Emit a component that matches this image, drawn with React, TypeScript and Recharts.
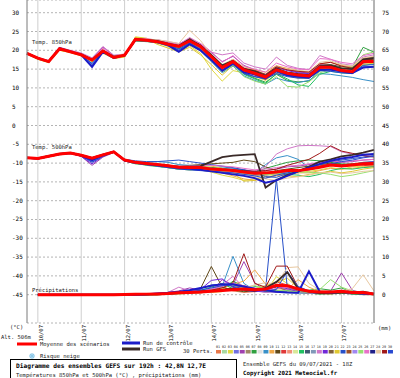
import { LineChart, Line, XAxis, YAxis, CartesianGrid, ReferenceLine } from 'recharts';

// 6-hourly steps from 09/07 18Z to 17/07 18Z (192h)
const STEPS = [0, 1, 2, 3, 4, 5, 6, 7, 8, 9, 10, 11, 12, 13, 14, 15, 16, 17, 18, 19, 20, 21, 22, 23, 24, 25, 26, 27, 28, 29, 30, 31, 32];
const DAY_TICKS = [1, 5, 9, 13, 17, 21, 25, 29];
const DAY_LABELS = ['10/07', '11/07', '12/07', '13/07', '14/07', '15/07', '16/07', '17/07'];
const TEMP_TICKS = [30, 25, 20, 15, 10, 5, 0, -5, -10, -15, -20, -25, -30, -35, -40, -45];
const RR_TICKS = [75, 70, 65, 60, 55, 50, 45, 40, 35, 30, 25, 20, 15, 10, 5, 0];

const PERT_NUMBERS = ['01', '02', '03', '04', '05', '06', '07', '08', '09', '10', '11', '12', '13', '14', '15', '16', '17', '18', '19', '20', '21', '22', '23', '24', '25', '26', '27', '28', '29', '30'];
const PERT_COLORS = ['#e8784a', '#a8d8a0', '#e0d840', '#7070e0', '#a040b0', '#a08868', '#30a040', '#e0e0e0', '#3890c8', '#f0a848', '#604818', '#e03838', '#f09078', '#d8e898', '#20c060', '#405870', '#8098b8', '#d078c8', '#7028d8', '#806038', '#e0c830', '#2850c8', '#a05028', '#a088f0', '#98e070', '#e870c8', '#202088', '#e8c8a0', '#a01818', '#2848d0'];

// Temp 850hPa (°C)
const T850_MEAN = [19.2, 17.9, 17.0, 20.4, 19.6, 18.8, 17.4, 19.8, 18.1, 18.7, 22.9, 22.7, 22.3, 21.6, 21.0, 22.5, 21.0, 18.3, 15.4, 17.0, 14.8, 13.9, 12.9, 14.8, 13.9, 13.4, 13.2, 15.5, 15.5, 14.6, 14.3, 17.0, 17.0];
const T850_CTRL = [19.2, 17.9, 17.0, 20.6, 19.7, 18.8, 15.6, 19.6, 18.0, 18.7, 22.8, 22.6, 22.2, 21.4, 19.6, 21.6, 20.0, 17.4, 14.6, 16.6, 14.2, 13.6, 12.6, 14.6, 13.4, 13.0, 12.8, 14.8, 14.8, 14.4, 14.0, 15.4, 15.6];
const T850_GFS = [19.2, 17.9, 17.0, 20.5, 19.6, 18.9, 17.5, 19.9, 18.3, 18.6, 23.0, 22.8, 22.5, 21.8, 21.2, 22.9, 21.2, 18.8, 16.0, 17.2, 15.0, 14.4, 13.2, 15.2, 14.0, 13.6, 13.4, 15.8, 16.0, 15.2, 15.0, 17.6, 18.0];
const T850_01 = [19.0, 17.7, 16.8, 20.2, 19.8, 18.9, 17.6, 20.1, 18.3, 18.9, 23.3, 23.0, 22.6, 22.0, 20.6, 22.0, 20.3, 17.6, 14.8, 16.4, 14.2, 13.5, 12.4, 14.2, 13.6, 13.0, 12.8, 15.0, 15.8, 15.2, 15.0, 17.4, 17.8];
const T850_03 = [19.1, 17.6, 16.7, 20.0, 19.4, 18.5, 17.0, 19.2, 17.8, 18.4, 23.6, 23.2, 22.0, 21.0, 19.6, 21.2, 19.2, 15.0, 11.8, 14.6, 14.0, 13.0, 12.0, 14.0, 13.2, 12.6, 12.5, 14.8, 15.3, 14.5, 14.1, 16.5, 16.8];
const T850_05 = [19.3, 18.0, 17.2, 20.6, 19.8, 19.1, 17.8, 20.9, 18.6, 18.8, 22.6, 22.5, 22.8, 22.1, 21.6, 23.0, 21.6, 19.4, 17.0, 18.4, 16.0, 14.8, 13.5, 15.8, 14.8, 14.2, 14.0, 16.2, 16.0, 15.2, 15.0, 17.6, 17.5];
const T850_07 = [19.2, 17.8, 16.9, 20.3, 19.5, 18.7, 17.3, 19.6, 18.0, 18.5, 22.8, 22.4, 22.0, 21.3, 20.5, 22.2, 20.5, 17.8, 14.6, 16.2, 13.8, 12.6, 11.5, 13.6, 12.0, 11.6, 11.8, 14.5, 14.8, 15.0, 15.5, 20.8, 19.5];
const T850_09 = [19.1, 17.8, 17.0, 20.5, 19.7, 18.6, 16.6, 19.5, 18.0, 18.6, 22.5, 22.4, 22.0, 21.2, 20.2, 21.8, 19.8, 17.0, 14.0, 15.8, 13.2, 12.0, 11.0, 12.6, 11.8, 11.4, 12.0, 13.8, 13.6, 13.2, 12.8, 12.2, 11.7];
const T850_10 = [19.4, 18.1, 17.1, 20.2, 19.5, 18.8, 17.6, 20.0, 18.2, 18.8, 23.1, 22.9, 22.6, 21.9, 20.9, 22.8, 21.2, 18.8, 16.0, 17.6, 15.6, 14.8, 14.2, 15.9, 15.2, 14.6, 14.2, 16.4, 16.8, 16.0, 15.6, 17.8, 18.2];
const T850_11 = [19.2, 17.9, 17.1, 20.4, 19.6, 18.7, 17.2, 19.7, 18.0, 18.6, 22.7, 22.6, 22.4, 21.4, 20.8, 23.2, 21.5, 18.6, 15.6, 17.3, 14.6, 13.8, 12.6, 15.0, 14.2, 13.8, 13.6, 16.0, 16.2, 15.6, 15.4, 17.4, 17.6];
const T850_12 = [19.2, 18.0, 17.0, 20.3, 19.7, 18.9, 17.5, 19.9, 18.3, 18.7, 22.8, 22.8, 22.5, 21.8, 21.4, 22.6, 20.8, 18.0, 15.2, 16.8, 14.6, 13.4, 12.2, 14.4, 13.4, 12.9, 12.8, 15.2, 15.6, 14.9, 14.4, 16.8, 17.4];
const T850_15 = [19.1, 17.8, 16.9, 20.1, 19.5, 18.8, 17.2, 19.4, 17.9, 18.5, 22.5, 22.3, 22.2, 21.5, 20.6, 22.0, 20.2, 17.2, 14.4, 16.4, 13.6, 12.4, 11.2, 13.8, 12.4, 10.8, 10.4, 13.6, 14.4, 14.0, 13.8, 16.0, 16.4];
const T850_18 = [19.3, 18.1, 17.3, 20.8, 20.0, 19.3, 18.0, 21.0, 18.7, 19.0, 23.0, 22.9, 22.8, 22.3, 21.8, 23.0, 21.8, 19.5, 18.8, 19.3, 16.6, 15.6, 15.0, 18.2, 16.0, 15.2, 14.9, 18.6, 17.6, 16.4, 16.0, 18.2, 18.8];
const T850_19 = [19.2, 17.9, 17.0, 20.5, 19.7, 18.9, 17.3, 19.9, 18.2, 18.9, 23.1, 22.8, 22.2, 21.7, 21.2, 22.4, 20.9, 18.4, 15.8, 17.4, 15.3, 14.2, 13.4, 15.4, 14.6, 14.0, 13.8, 15.8, 15.4, 14.4, 14.2, 16.6, 16.9];
const T850_21 = [19.0, 17.6, 16.8, 20.0, 19.4, 18.6, 17.0, 19.4, 17.8, 18.2, 23.4, 23.1, 21.6, 20.6, 19.6, 20.8, 18.8, 16.2, 13.4, 16.0, 14.4, 13.6, 12.6, 14.2, 13.8, 13.2, 13.0, 15.0, 15.2, 14.8, 14.4, 16.2, 16.6];
const T850_22 = [19.3, 17.9, 17.0, 20.6, 19.7, 18.8, 16.0, 19.6, 18.0, 18.8, 22.6, 22.6, 22.4, 21.5, 20.4, 22.2, 20.4, 17.6, 14.6, 16.4, 14.0, 13.0, 12.4, 14.2, 13.2, 12.8, 12.6, 14.8, 15.0, 14.2, 14.0, 16.0, 16.2];
const T850_25 = [19.1, 17.8, 16.9, 20.2, 19.5, 18.7, 17.4, 19.6, 18.0, 18.6, 22.7, 22.5, 22.0, 21.4, 20.8, 22.3, 20.6, 17.8, 14.2, 16.0, 13.0, 11.8, 11.0, 13.0, 10.4, 10.2, 11.6, 14.0, 14.8, 15.2, 15.6, 18.8, 19.6];
const T850_26 = [19.2, 18.0, 17.1, 20.6, 19.8, 19.0, 17.6, 20.6, 18.4, 18.9, 23.0, 23.2, 22.6, 22.0, 21.6, 23.4, 21.8, 19.6, 16.8, 18.6, 15.8, 15.0, 14.2, 16.6, 15.6, 15.0, 14.8, 17.8, 17.6, 16.8, 16.4, 18.6, 19.2];
const T850_28 = [19.2, 17.9, 17.1, 20.3, 19.6, 18.8, 17.6, 19.8, 18.4, 19.0, 22.9, 23.0, 22.8, 22.4, 21.8, 25.3, 22.6, 18.8, 16.2, 17.6, 15.6, 14.4, 13.8, 15.6, 15.0, 14.6, 14.4, 16.8, 17.2, 16.2, 15.8, 18.0, 18.4];
const T850_29 = [19.3, 18.0, 17.0, 20.4, 19.6, 18.8, 17.4, 19.8, 18.2, 18.7, 22.8, 22.7, 22.4, 21.7, 21.0, 22.6, 20.9, 18.6, 15.8, 17.2, 15.2, 14.6, 13.6, 15.6, 14.8, 14.4, 14.2, 16.4, 16.8, 15.8, 15.2, 17.2, 17.9];
const T850_30 = [19.2, 17.9, 17.0, 20.5, 19.7, 18.8, 16.4, 19.7, 18.1, 18.6, 22.7, 22.8, 22.2, 21.5, 20.0, 22.0, 20.0, 17.4, 14.4, 16.2, 13.8, 13.0, 12.4, 13.8, 13.0, 12.6, 12.6, 14.6, 14.4, 14.0, 13.8, 15.6, 15.6];

// Temp 500hPa (°C)
const T500_MEAN = [-8.6, -8.8, -8.2, -7.6, -7.3, -7.9, -8.7, -7.8, -7.0, -9.2, -9.8, -10.1, -10.4, -10.7, -11.1, -11.2, -11.2, -11.6, -11.8, -12.0, -12.4, -12.7, -12.6, -12.4, -12.0, -12.0, -11.6, -11.1, -10.5, -10.8, -10.5, -10.2, -10.1];
const T500_CTRL = [-8.6, -8.8, -8.2, -7.6, -7.3, -8.0, -9.2, -7.9, -7.0, -9.3, -9.9, -10.3, -10.6, -10.9, -11.3, -11.5, -11.8, -12.2, -12.6, -13.0, -13.4, -14.0, -15.2, -14.6, -13.4, -12.2, -11.2, -10.2, -9.4, -8.8, -8.4, -7.8, -7.6];
const T500_GFS = [-8.6, -8.8, -8.2, -7.6, -7.3, -7.9, -8.7, -7.8, -7.0, -9.2, -9.8, -10.1, -10.4, -10.7, -11.0, -11.0, -10.8, -9.6, -8.4, -8.0, -7.8, -7.6, -16.5, -14.5, -13.2, -12.2, -11.0, -9.6, -9.0, -8.2, -7.8, -7.2, -6.5];
const T500_01 = [-8.5, -8.7, -8.0, -7.4, -7.2, -7.8, -8.5, -7.6, -6.9, -9.0, -9.6, -10.0, -10.6, -11.0, -11.4, -11.6, -11.4, -11.8, -12.4, -12.6, -13.0, -13.4, -13.0, -12.6, -12.2, -11.8, -11.4, -10.6, -10.0, -10.4, -10.2, -9.8, -9.6];
const T500_03 = [-8.7, -8.9, -8.3, -7.8, -7.5, -8.1, -9.0, -8.0, -7.2, -9.4, -10.0, -10.3, -10.2, -10.5, -11.0, -11.4, -11.8, -12.4, -13.2, -13.8, -14.6, -14.2, -13.6, -13.2, -12.8, -12.4, -12.2, -11.8, -11.2, -11.6, -11.0, -10.8, -10.6];
const T500_05 = [-8.6, -8.8, -8.2, -7.5, -7.4, -8.2, -10.6, -8.4, -7.2, -9.0, -9.6, -10.0, -10.3, -10.6, -11.0, -11.1, -11.0, -11.4, -11.4, -11.6, -11.8, -12.2, -12.0, -11.6, -11.0, -10.8, -10.4, -9.8, -9.4, -9.8, -9.6, -9.2, -9.0];
const T500_07 = [-8.6, -8.6, -8.0, -7.6, -7.3, -7.9, -8.6, -7.7, -7.0, -9.4, -10.2, -10.4, -10.8, -11.2, -11.6, -11.8, -11.6, -11.8, -12.0, -12.2, -12.6, -12.4, -11.4, -10.6, -9.8, -9.4, -9.2, -9.4, -9.8, -10.2, -10.4, -10.0, -10.2];
const T500_09 = [-8.5, -8.8, -8.1, -7.5, -7.2, -7.8, -8.8, -7.8, -7.0, -9.2, -9.6, -9.8, -9.6, -9.8, -10.4, -10.6, -10.8, -11.2, -11.0, -11.4, -11.8, -12.6, -10.4, -8.6, -8.0, -9.0, -11.2, -10.8, -10.2, -10.6, -10.4, -9.8, -9.6];
const T500_10 = [-8.7, -8.8, -8.3, -7.7, -7.4, -8.0, -8.8, -7.9, -7.1, -9.3, -9.9, -10.2, -10.5, -10.8, -11.2, -11.4, -11.5, -12.0, -12.6, -13.4, -14.2, -14.6, -14.0, -13.4, -13.0, -12.6, -12.6, -12.0, -11.4, -11.6, -11.4, -11.0, -10.8];
const T500_11 = [-8.6, -8.8, -8.2, -7.6, -7.3, -7.9, -8.7, -7.8, -7.0, -9.2, -9.8, -10.1, -10.4, -10.6, -10.8, -10.6, -10.4, -10.2, -10.0, -9.8, -9.2, -9.6, -11.0, -12.0, -11.6, -11.2, -10.8, -10.4, -10.0, -10.4, -10.2, -10.0, -9.8];
const T500_12 = [-8.6, -8.7, -8.2, -7.6, -7.3, -7.9, -8.6, -7.8, -7.1, -9.1, -9.8, -10.2, -10.5, -10.8, -11.0, -11.1, -11.2, -11.5, -11.6, -11.8, -12.2, -12.4, -12.8, -12.8, -12.2, -12.0, -11.4, -10.8, -10.2, -10.6, -10.4, -10.6, -10.8];
const T500_15 = [-8.6, -8.8, -8.2, -7.7, -7.4, -8.0, -8.7, -7.8, -7.0, -9.3, -10.0, -10.6, -10.9, -11.2, -11.6, -11.6, -11.4, -11.2, -11.4, -11.8, -12.2, -12.6, -12.4, -12.6, -13.0, -13.2, -13.6, -13.0, -12.0, -11.4, -11.6, -11.2, -11.0];
const T500_18 = [-8.7, -8.9, -8.3, -7.8, -7.5, -8.1, -8.9, -8.0, -7.2, -9.4, -10.0, -10.3, -10.6, -10.9, -11.2, -11.4, -11.6, -11.8, -12.0, -12.2, -12.6, -12.0, -11.0, -7.6, -6.2, -5.4, -5.3, -5.4, -5.6, -7.0, -7.6, -8.0, -8.2];
const T500_19 = [-8.6, -8.9, -8.3, -7.6, -7.3, -8.2, -10.2, -8.2, -7.0, -9.2, -9.8, -10.2, -10.5, -10.8, -11.2, -11.3, -11.4, -11.8, -12.2, -12.4, -12.8, -13.0, -13.2, -12.8, -12.4, -12.2, -11.8, -11.2, -10.6, -10.8, -10.4, -10.0, -9.6];
const T500_21 = [-8.6, -8.7, -8.1, -7.5, -7.2, -7.8, -8.6, -7.7, -6.9, -9.1, -9.7, -10.0, -10.3, -10.6, -11.0, -11.0, -10.8, -10.8, -11.4, -12.6, -14.8, -14.6, -13.2, -12.8, -13.4, -13.6, -13.0, -12.6, -12.2, -12.6, -12.2, -11.6, -11.2];
const T500_22 = [-8.6, -8.8, -8.2, -7.5, -7.3, -8.0, -9.6, -8.0, -7.0, -9.0, -9.4, -9.6, -9.6, -9.4, -9.2, -9.6, -10.0, -10.4, -10.8, -11.2, -11.8, -12.4, -13.6, -13.8, -12.8, -12.0, -11.2, -10.4, -9.6, -9.2, -8.8, -8.4, -8.0];
const T500_25 = [-8.6, -8.8, -8.2, -7.6, -7.3, -7.9, -8.7, -7.8, -7.0, -9.2, -10.1, -10.5, -10.8, -11.2, -11.6, -11.8, -11.8, -12.0, -12.2, -12.4, -12.8, -13.2, -13.0, -12.8, -12.6, -12.4, -12.4, -12.6, -13.0, -13.6, -13.2, -12.6, -12.0];
const T500_26 = [-8.6, -8.8, -8.1, -7.5, -7.2, -7.8, -8.6, -7.6, -6.8, -9.0, -9.7, -10.0, -10.3, -10.6, -10.8, -10.8, -10.6, -10.6, -10.8, -11.0, -11.4, -11.8, -11.6, -11.2, -10.8, -10.6, -10.2, -9.8, -9.4, -9.6, -9.4, -9.2, -9.0];
const T500_28 = [-8.6, -8.8, -8.2, -7.6, -7.3, -7.9, -8.7, -7.8, -7.0, -9.2, -9.9, -10.1, -10.4, -10.6, -11.0, -11.0, -11.0, -11.4, -11.8, -12.4, -13.0, -13.6, -14.2, -14.6, -14.0, -13.6, -13.2, -12.6, -12.4, -12.8, -12.6, -12.2, -12.0];
const T500_29 = [-8.6, -8.8, -8.2, -7.6, -7.3, -7.9, -8.7, -7.8, -7.0, -9.2, -9.8, -10.1, -10.4, -10.7, -11.1, -11.2, -11.2, -11.4, -11.6, -11.8, -12.0, -12.2, -12.0, -11.6, -10.6, -9.8, -9.0, -7.4, -5.4, -6.8, -7.4, -8.0, -8.4];
const T500_30 = [-8.6, -8.8, -8.2, -7.6, -7.4, -8.1, -9.8, -8.2, -7.1, -9.4, -10.0, -10.4, -10.8, -11.2, -11.6, -11.8, -12.0, -12.2, -12.4, -12.6, -13.0, -13.4, -14.0, -13.2, -12.6, -12.0, -11.6, -11.0, -10.2, -9.6, -9.2, -8.6, -8.2];

// Precipitations (mm / 6h), no value at the start step
const RR_MEAN = [null, 0, 0, 0, 0, 0, 0, 0, 0, 0.05, 0.1, 0.15, 0.2, 0.3, 0.5, 0.6, 0.7, 0.9, 1.1, 1.3, 1.5, 1.3, 1.5, 2.5, 2.4, 1.5, 0.9, 0.7, 0.7, 0.9, 0.6, 0.6, 0.2];
const RR_CTRL = [null, 0, 0, 0, 0, 0, 0, 0, 0, 0, 0, 0.1, 0.3, 0.5, 0.8, 1.2, 1.8, 2.4, 2.8, 2.8, 2.2, 1.6, 1.2, 0.8, 0.6, 0.5, 6.2, 0.8, 0.6, 0.8, 0.6, 0.4, 0.2];
const RR_GFS = [null, 0, 0, 0, 0, 0, 0, 0, 0, 0, 0, 0, 0.1, 0.2, 0.4, 0.6, 0.8, 1.0, 1.2, 1.6, 1.4, 1.0, 1.8, 3.4, 6.0, 1.6, 0.8, 0.4, 0.4, 0.6, 0.6, 0.8, 0.2];
const RR_01 = [null, 0, 0, 0, 0, 0, 0, 0, 0, 0, 0, 0.1, 0.2, 0.4, 0.8, 0.5, 0.4, 1.2, 2.0, 1.0, 0.6, 0.8, 1.4, 2.2, 1.8, 1.0, 0.6, 0.4, 0.6, 1.0, 0.4, 0.2, 0];
const RR_03 = [null, 0, 0, 0, 0, 0, 0, 0, 0, 0, 0, 0, 0, 0.2, 0.4, 0.6, 1.0, 0.6, 0.8, 2.4, 1.8, 1.2, 0.8, 4.8, 3.0, 1.2, 0.6, 0.4, 0.2, 0.6, 0.8, 0.4, 0.2];
const RR_05 = [null, 0, 0, 0, 0, 0, 0, 0, 0, 0, 0.1, 0.2, 0.4, 0.6, 1.0, 1.8, 1.2, 0.8, 4.0, 2.6, 8.8, 3.2, 1.0, 0.6, 0.8, 0.6, 0.4, 0.8, 1.0, 5.8, 1.2, 0.4, 0.2];
const RR_07 = [null, 0, 0, 0, 0, 0, 0, 0, 0, 0, 0, 0, 0.1, 0.2, 0.3, 0.4, 0.6, 0.8, 1.4, 3.6, 2.2, 1.4, 0.8, 1.2, 0.6, 0.8, 1.2, 1.6, 1.2, 1.8, 0.6, 0.4, 0.2];
const RR_09 = [null, 0, 0, 0, 0, 0, 0, 0, 0, 0, 0, 0.1, 0.1, 0.3, 0.5, 0.8, 1.0, 1.4, 2.2, 10.2, 3.0, 1.2, 0.6, 0.8, 0.6, 0.4, 0.4, 0.6, 0.8, 0.4, 0.2, 0.2, 0.1];
const RR_10 = [null, 0, 0, 0, 0, 0, 0, 0, 0, 0, 0, 0, 0.1, 0.2, 0.4, 0.6, 0.8, 1.2, 1.6, 2.8, 3.6, 6.6, 2.8, 1.6, 1.4, 4.0, 2.0, 0.8, 0.6, 0.4, 0.6, 0.4, 0.2];
const RR_11 = [null, 0, 0, 0, 0, 0, 0, 0, 0, 0, 0, 0, 0, 0.2, 0.6, 1.0, 1.6, 7.5, 2.0, 1.2, 0.8, 1.0, 1.6, 2.0, 1.2, 0.8, 0.4, 0.2, 0.2, 0.4, 0.2, 0, 0];
const RR_12 = [null, 0, 0, 0, 0, 0, 0, 0, 0, 0, 0, 0.1, 0.2, 0.3, 0.5, 0.6, 0.8, 1.0, 1.2, 1.8, 2.4, 1.6, 1.2, 3.4, 2.6, 1.4, 0.8, 0.6, 0.6, 0.8, 0.4, 0.6, 0.2];
const RR_15 = [null, 0, 0, 0, 0, 0, 0, 0, 0, 0, 0, 0, 0.1, 0.1, 0.3, 0.6, 1.2, 2.0, 3.0, 1.6, 1.0, 2.2, 1.6, 0.8, 1.2, 0.6, 0.4, 0.2, 0.4, 0.6, 0.2, 0.2, 0];
const RR_18 = [null, 0, 0, 0, 0, 0, 0, 0, 0, 0, 0, 0.1, 0.2, 0.6, 2.0, 1.0, 0.8, 1.6, 2.6, 4.9, 1.8, 1.0, 0.6, 0.8, 1.4, 0.6, 0.4, 0.4, 0.6, 0.8, 0.6, 0.4, 0.2];
const RR_19 = [null, 0, 0, 0, 0, 0, 0, 0, 0, 0, 0, 0, 0.1, 0.3, 0.6, 1.0, 1.4, 3.8, 4.2, 2.0, 1.2, 0.8, 1.0, 2.2, 1.6, 0.8, 0.6, 0.4, 0.4, 0.6, 0.4, 0.2, 0.1];
const RR_21 = [null, 0, 0, 0, 0, 0, 0, 0, 0, 0, 0, 0, 0, 0.1, 0.2, 0.4, 0.6, 0.8, 1.0, 1.4, 2.0, 1.6, 2.4, 3.2, 4.4, 1.8, 0.8, 0.6, 0.4, 0.6, 0.8, 0.4, 0.2];
const RR_22 = [null, 0, 0, 0, 0, 0, 0, 0, 0, 0, 0, 0.1, 0.2, 0.4, 0.6, 1.2, 1.6, 2.6, 2.8, 2.2, 1.6, 1.0, 1.4, 30.8, 2.0, 1.2, 0.6, 0.4, 0.6, 0.8, 0.4, 0.2, 0.1];
const RR_25 = [null, 0, 0, 0, 0, 0, 0, 0, 0, 0, 0, 0, 0, 0.1, 0.2, 0.4, 0.6, 0.8, 1.2, 1.4, 1.8, 2.4, 1.6, 1.2, 1.0, 0.8, 0.6, 1.4, 4.0, 2.0, 1.0, 0.6, 0.2];
const RR_26 = [null, 0, 0, 0, 0, 0, 0, 0, 0, 0, 0, 0.1, 0.2, 0.4, 0.8, 1.2, 1.0, 1.4, 2.2, 3.0, 2.4, 1.8, 1.2, 1.6, 2.0, 1.4, 0.8, 0.6, 0.8, 1.2, 0.8, 0.6, 0.2];
const RR_28 = [null, 0, 0, 0, 0, 0, 0, 0, 0, 0, 0, 0, 0, 0.1, 0.2, 0.4, 0.6, 0.8, 1.0, 1.4, 1.8, 2.6, 3.2, 2.8, 7.2, 7.4, 3.0, 1.2, 0.8, 1.0, 1.6, 5.3, 1.0];
const RR_29 = [null, 0, 0, 0, 0, 0, 0, 0, 0, 0, 0, 0.1, 0.2, 0.3, 0.5, 0.8, 1.0, 1.2, 1.8, 3.2, 10.9, 3.0, 2.0, 7.6, 7.6, 2.0, 0.8, 0.6, 0.4, 0.6, 0.4, 0.2, 0.1];
const RR_30 = [null, 0, 0, 0, 0, 0, 0, 0, 0, 0, 0, 0.1, 0.2, 0.4, 0.6, 0.8, 1.2, 1.8, 2.4, 2.6, 2.0, 1.4, 1.0, 1.4, 6.2, 2.2, 1.0, 0.6, 0.4, 0.6, 0.4, 0.2, 0.1];

const MEMBERS = [
    { id: '01', t850: T850_01, t500: T500_01, rr: RR_01 },
    { id: '03', t850: T850_03, t500: T500_03, rr: RR_03 },
    { id: '05', t850: T850_05, t500: T500_05, rr: RR_05 },
    { id: '07', t850: T850_07, t500: T500_07, rr: RR_07 },
    { id: '09', t850: T850_09, t500: T500_09, rr: RR_09 },
    { id: '10', t850: T850_10, t500: T500_10, rr: RR_10 },
    { id: '11', t850: T850_11, t500: T500_11, rr: RR_11 },
    { id: '12', t850: T850_12, t500: T500_12, rr: RR_12 },
    { id: '15', t850: T850_15, t500: T500_15, rr: RR_15 },
    { id: '18', t850: T850_18, t500: T500_18, rr: RR_18 },
    { id: '19', t850: T850_19, t500: T500_19, rr: RR_19 },
    { id: '21', t850: T850_21, t500: T500_21, rr: RR_21 },
    { id: '22', t850: T850_22, t500: T500_22, rr: RR_22 },
    { id: '25', t850: T850_25, t500: T500_25, rr: RR_25 },
    { id: '26', t850: T850_26, t500: T500_26, rr: RR_26 },
    { id: '28', t850: T850_28, t500: T500_28, rr: RR_28 },
    { id: '29', t850: T850_29, t500: T500_29, rr: RR_29 },
    { id: '30', t850: T850_30, t500: T500_30, rr: RR_30 },
];

const MONO = '"DejaVu Sans Mono", monospace';
const TEXT_COLOR = '#000000';
const MEAN_COLOR = '#ff0000';
const CTRL_COLOR = '#1c1cc8';
const GFS_COLOR = '#3a2a28';

// left axis (°C) and right axis (mm) are offset by 45
const TEMP_DOMAIN = [-52.53, 33.38];
const RR_DOMAIN = [-7.53, 78.38];

const rows = STEPS.map((s, k) => {
    const row: any = {
        step: s,
        t850_mean: T850_MEAN[k], t850_ctrl: T850_CTRL[k], t850_gfs: T850_GFS[k],
        t500_mean: T500_MEAN[k], t500_ctrl: T500_CTRL[k], t500_gfs: T500_GFS[k],
        rr_mean: RR_MEAN[k], rr_ctrl: RR_CTRL[k], rr_gfs: RR_GFS[k],
    };
    MEMBERS.forEach((m) => {
        row[`t850_${m.id}`] = m.t850[k];
        row[`t500_${m.id}`] = m.t500[k];
        row[`rr_${m.id}`] = m.rr[k];
    });
    return row;
});

const memberColor = (id: string) => PERT_COLORS[parseInt(id, 10) - 1];

const LeftTick = (props: any) => (
    <text x={12} y={props.y + 2} fontSize={6} fontFamily={MONO} fill={TEXT_COLOR} stroke="none">
        {props.payload.value}
    </text>
);

const RightTick = (props: any) => (
    <text x={382} y={props.y + 2} fontSize={6} fontFamily={MONO} fill={TEXT_COLOR} stroke="none">
        {props.payload.value}
    </text>
);

const DayTick = (props: any) => {
    const label = DAY_LABELS[DAY_TICKS.indexOf(props.payload.value)];
    return (
        <text transform={`translate(${props.x + 5},325) rotate(-90)`} textAnchor="end" fontSize={5.5}
            fontFamily={MONO} fill={TEXT_COLOR} stroke="none">
            {label}
        </text>
    );
};

export default function App() {
    const thin = (key: string, color: string, axis: string | number = 0) => (
        <Line key={key} yAxisId={axis} dataKey={key} stroke={color} strokeWidth={1} dot={false}
            isAnimationActive={false} connectNulls={false} />
    );
    const thick = (key: string, color: string, w: number, axis: string | number = 0) => (
        <Line key={key} yAxisId={axis} dataKey={key} stroke={color} strokeWidth={w} dot={false}
            isAnimationActive={false} />
    );

    return (
        <div style={{ position: 'absolute', left: 0, top: 0, width: 400, height: 378, background: '#fff', overflow: 'hidden' }}>
            <LineChart width={400} height={350} data={rows} margin={{ top: 0, right: 0, bottom: 0, left: 0 }}>
                <CartesianGrid vertical={false} stroke="#b4b4b4" strokeDasharray="2 2" />
                {DAY_TICKS.map((d) => (
                    <ReferenceLine key={`d${d}`} x={d} stroke="#cfcfcf" strokeWidth={1} />
                ))}
                <XAxis dataKey="step" type="number" domain={[0, 32]} ticks={DAY_TICKS} height={27}
                    axisLine={false} tickLine={false} tick={DayTick} interval={0} />
                <YAxis yAxisId={0} domain={TEMP_DOMAIN} ticks={TEMP_TICKS} width={27} allowDataOverflow
                    axisLine={{ stroke: '#7a7a7a' }} tickLine={false} tick={LeftTick} interval={0} />
                <YAxis yAxisId="r" orientation="right" domain={RR_DOMAIN} ticks={RR_TICKS} width={26} allowDataOverflow
                    axisLine={{ stroke: '#6a6a6a' }} tickLine={false} tick={RightTick} interval={0} />
                {MEMBERS.map((m) => thin(`t850_${m.id}`, memberColor(m.id)))}
                {MEMBERS.map((m) => thin(`t500_${m.id}`, memberColor(m.id)))}
                {MEMBERS.map((m) => thin(`rr_${m.id}`, memberColor(m.id), 'r'))}
                {thick('t850_gfs', GFS_COLOR, 1.8)}
                {thick('t500_gfs', GFS_COLOR, 1.8)}
                {thick('rr_gfs', GFS_COLOR, 1.8, 'r')}
                {thick('t850_ctrl', CTRL_COLOR, 2)}
                {thick('t500_ctrl', CTRL_COLOR, 2)}
                {thick('rr_ctrl', CTRL_COLOR, 2, 'r')}
                {thick('t850_mean', MEAN_COLOR, 3)}
                {thick('t500_mean', MEAN_COLOR, 3)}
                {thick('rr_mean', MEAN_COLOR, 3, 'r')}
            </LineChart>

            {/* labels, legend and footer */}
            <svg width={400} height={378} style={{ position: 'absolute', left: 0, top: 0, pointerEvents: 'none' }}
                fontFamily={MONO} fontSize={5.5} fill="#222222">
                <text x={32} y={43.5}>Temp. 850hPa</text>
                <text x={32} y={148.5}>Temp. 500hPa</text>
                <text x={32} y={292}>Précipitations</text>
                <text x={10} y={329}>(°C)</text>
                <text x={1} y={339}>Alt. 506m</text>
                <text x={378} y={330}>(mm)</text>

                <line x1={17} y1={344} x2={37} y2={344} stroke={MEAN_COLOR} strokeWidth={3} />
                <text x={40} y={346}>Moyenne des scénarios</text>
                <line x1={122} y1={343} x2={140} y2={343} stroke={CTRL_COLOR} strokeWidth={3} />
                <text x={143} y={345}>Run de contrôle</text>
                <line x1={122} y1={349} x2={140} y2={349} stroke={GFS_COLOR} strokeWidth={3} />
                <text x={143} y={351}>Run GFS</text>
                <g stroke="#8cc8e8" strokeWidth={1.2}>
                    <line x1={29} y1={356} x2={35} y2={356} />
                    <line x1={32} y1={353} x2={32} y2={359} />
                    <line x1={30} y1={354} x2={34} y2={358} />
                    <line x1={34} y1={354} x2={30} y2={358} />
                </g>
                <text x={40} y={358}>Risque neige</text>

                <text x={183} y={353}>30 Perts.</text>
                {PERT_NUMBERS.map((n, k) => (
                    <text key={`n${n}`} x={216 + k * 5.93} y={348} fontSize={3.4}>{n}</text>
                ))}
                {PERT_COLORS.map((c, k) => (
                    <rect key={`c${k}`} x={216 + k * 5.93} y={350} width={5} height={3.5} fill={c} />
                ))}

                <rect x={10.5} y={359.5} width={226} height={25} fill="none" stroke="#000" strokeWidth={1} />
                <text x={16} y={368} fontWeight="bold" fontSize={6.2} fill="#000">Diagramme des ensembles GEFS sur 192h : 42,8N 12,7E</text>
                <text x={16} y={376.5}>Températures 850hPa et 500hPa (°C) , précipitations (mm)</text>
                <text x={243} y={366}>Ensemble GEFS du 09/07/2021 - 18Z</text>
                <text x={243} y={375} fontWeight="bold" fontSize={5.8} fill="#000">Copyright 2021 Meteociel.fr</text>
            </svg>
        </div>
    );
}
